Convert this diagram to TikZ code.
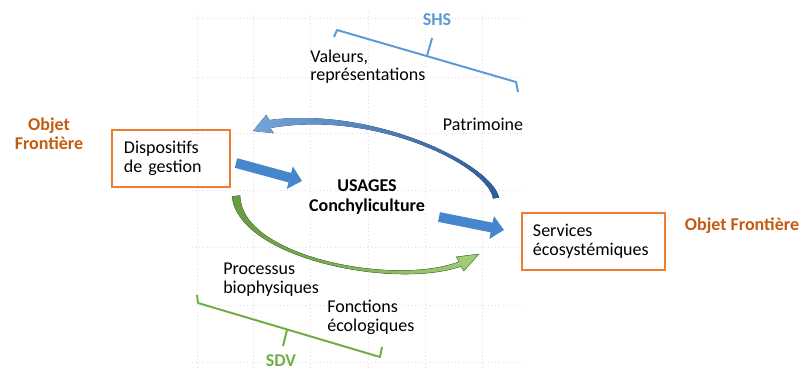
\documentclass[tikz,border=0pt]{standalone}
\usepackage{fontspec}
\setmainfont{Carlito}
\usetikzlibrary{arrows.meta,positioning}
\definecolor{ofrange}{RGB}{197,90,17}
\definecolor{boxorange}{RGB}{237,125,49}
\definecolor{shsblue}{RGB}{91,155,213}
\definecolor{sdvgreen}{RGB}{112,173,71}
\definecolor{arrblue}{RGB}{70,134,204}
\definecolor{arrbluedk}{RGB}{44,92,158}
\definecolor{arrgreen}{RGB}{104,156,66}
\definecolor{arrgreenlt}{RGB}{162,206,122}
\definecolor{gridgray}{RGB}{222,222,222}
\tikzset{
  txt/.style={inner sep=0pt,align=left,font=\fontsize{12.8}{13.2}\selectfont},
  frontier/.style={txt,align=center,text=ofrange,font=\fontsize{12.8}{13.6}\selectfont\bfseries},
  objbox/.style={txt,draw=boxorange,line width=1pt,inner ysep=0pt,minimum height=1.425cm},
  fatarrow/.style={draw=arrblue,line width=7pt,-{Triangle[width=16pt,length=9pt]}},
  gridline/.style={draw=gridgray,dotted,line width=0.6pt},
  shsbr/.style={draw=shsblue,line width=1.4pt,line join=round},
  sdvbr/.style={draw=sdvgreen,line width=1.4pt,line join=round}
}
\begin{document}
\begin{tikzpicture}[x=0.025cm,y=-0.025cm]
\useasboundingbox (0,0) rectangle (801,370);
\clip (0,0) rectangle (801,370);

\foreach \x in {197,253,310,368,425,482}
  \draw[gridline] (\x,12) -- (\x,370);
\foreach \y in {18,77,133,190,247,305,362}
  \draw[gridline] (192,\y) -- (523,\y);

\node[txt,text=shsblue,font=\fontsize{12.8}{13.2}\selectfont\bfseries] (shs) at (437,20) {SHS};
\draw[shsbr] (334,37) -- (337,30) -- (516,82) -- (518,92);
\draw[shsbr] (427,56) -- (432,38);
\node[txt,anchor=west] (val) at (310,66.5) {Valeurs,\\représentations};
\node[txt] (pat) at (483,124) {Patrimoine};

\node[frontier] (ofg) at (49,134) {Objet\\Frontière};
\node[frontier] (ofd) at (742,226) {Objet Frontière};

\node[objbox,text width=2.35cm,inner xsep=0.3cm] (disp) at (171,158.5) {Dispositifs\\de gestion};
\node[objbox,text width=3.025cm,inner xsep=0.275cm] (serv) at (593.5,241.5) {Services\\écosystémiques};

\node[txt,align=center,font=\fontsize{12.8}{13.6}\selectfont\bfseries] (usa) at (367,197) {USAGES\\Conchyliculture};

\coordinate (a1s) at (236,163);
\coordinate (a1e) at (302,181);
\coordinate (a2s) at (439,217);
\coordinate (a2e) at (504,230);
\draw[fatarrow] (a1s) -- (a1e);
\draw[fatarrow] (a2s) -- (a2e);

\fill[left color=arrblue!75!white,right color=arrbluedk] (499,197.5) .. controls (491.5,164) and (374.5,106.5) .. (269.4,120)
  -- (266.2,114.8) -- (253,131) -- (273.8,133.2) -- (270.6,128)
  .. controls (375.5,109.5) and (488.5,166) .. (493,198.5) -- cycle;

\fill[left color=arrgreen,right color=arrgreenlt,draw=arrgreen!80!black,line width=0.3pt] (232,196.4) .. controls (239,259) and (395.3,289.5) .. (460.9,266.3)
  -- (463.7,271.1) -- (479,254) -- (456.3,256.9) -- (459.1,261.7)
  .. controls (394.7,286.5) and (241,257) .. (240,195.6) -- cycle;

\node[txt,anchor=west] (proc) at (223,279.5) {Processus\\biophysiques};
\node[txt,anchor=west] (fonc) at (327,317.5) {Fonctions\\écologiques};

\draw[sdvbr] (197,295) -- (198,303) -- (380,357) -- (382,347);
\draw[sdvbr] (287,330) -- (283,346);
\node[txt,text=sdvgreen,font=\fontsize{12.8}{13.2}\selectfont\bfseries] (sdv) at (281,361) {SDV};
\end{tikzpicture}
\end{document}
